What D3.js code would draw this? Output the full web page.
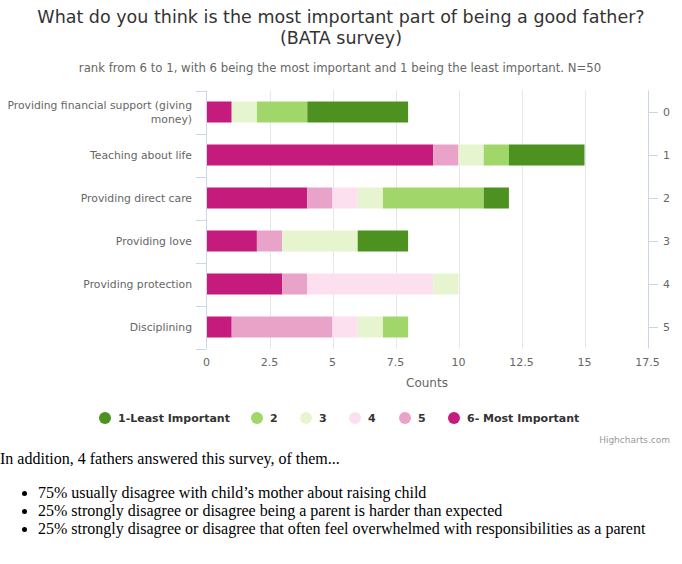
<!DOCTYPE html>
<html>
<head>
<meta charset="utf-8">
<script src="https://cdn.jsdelivr.net/npm/d3@7"></script>
<style>
body{margin:0;font-family:"Liberation Serif","Times New Roman",serif;font-size:16px;color:#000;}
#chart{width:682px;height:450px;}
p{margin:0;}
ul{margin:16px 0;padding-left:38px;}
</style>
</head>
<body>
<div id="chart"></div>
<p>In addition, 4 fathers answered this survey, of them...</p>
<ul>
<li>75% usually disagree with child’s mother about raising child</li>
<li>25% strongly disagree or disagree being a parent is harder than expected</li>
<li>25% strongly disagree or disagree that often feel overwhelmed with responsibilities as a parent</li>
</ul>
<script>
const categories = ["Providing financial support (giving money)","Teaching about life","Providing direct care","Providing love","Providing protection","Disciplining"];
const seriesNames = ["1-Least Important","2","3","4","5","6- Most Important"];
const seriesColors = ["#4d9221","#a1d76a","#e6f5d0","#fde0ef","#e9a3c9","#c51b7d"];
// values per series, in category order
const s1 = [4,3,1,2,0,0];
const s2 = [2,1,4,0,0,1];
const s3 = [1,1,1,3,1,1];
const s4 = [0,0,1,0,5,1];
const s5 = [0,1,1,1,1,4];
const s6 = [1,9,4,2,3,1];
const xTicks = [0,2.5,5,7.5,10,12.5,15,17.5];
const rightTicks = [0,1,2,3,4,5];

const seriesVals = [s1,s2,s3,s4,s5,s6];
const W = 682, H = 450;
const font = "'DejaVu Sans', Verdana, Arial, sans-serif";
const svg = d3.select("#chart").append("svg").attr("width",W).attr("height",H)
  .style("font-family",font);

const x = d3.scaleLinear().domain([0,17.5]).range([206.5,647.5]);
const y = d3.scaleBand().domain(categories).range([90.5,348.5]).paddingInner(0).paddingOuter(0);
const barH = 21;

// title
svg.append("text").attr("x",341).attr("y",23).attr("text-anchor","middle")
  .style("font-size","17.5px").style("fill","#333")
  .text("What do you think is the most important part of being a good father?");
svg.append("text").attr("x",341).attr("y",44).attr("text-anchor","middle")
  .style("font-size","17.5px").style("fill","#333").text("(BATA survey)");
svg.append("text").attr("x",340).attr("y",72).attr("text-anchor","middle")
  .style("font-size","11.7px").style("fill","#666")
  .text("rank from 6 to 1, with 6 being the most important and 1 being the least important. N=50");

// gridlines
svg.append("g").selectAll("line").data(xTicks.slice(1,-1)).join("line")
  .attr("x1",d=>Math.round(x(d))+0.5).attr("x2",d=>Math.round(x(d))+0.5)
  .attr("y1",90.5).attr("y2",348.5).attr("stroke","#e6e6e6").attr("stroke-width",1);

// stacked bars: order 6 at left .. 1 at right
const stackOrder = [5,4,3,2,1,0];
categories.forEach((c,ci)=>{
  let acc = 0;
  stackOrder.forEach(si=>{
    const v = seriesVals[si][ci];
    if(v>0){
      svg.append("rect")
        .attr("x",x(acc)).attr("width",x(acc+v)-x(acc))
        .attr("y",y(c)+y.bandwidth()/2-barH/2).attr("height",barH)
        .attr("fill",seriesColors[si]);
    }
    acc += v;
  });
});

// left axis
const axC = "#ccd6eb";
svg.append("line").attr("x1",206.5).attr("x2",206.5).attr("y1",90.5).attr("y2",348.5).attr("stroke",axC);
const bounds = categories.map(c=>y(c)).concat([y.range()[1]]);
svg.append("g").selectAll("line").data(bounds).join("line")
  .attr("x1",196).attr("x2",206.5).attr("y1",d=>Math.round(d)+0.5).attr("y2",d=>Math.round(d)+0.5).attr("stroke",axC);

// category labels
const lab = svg.append("g").style("font-size","10.8px").style("fill","#666").attr("text-anchor","end");
categories.forEach(c=>{
  const cy = y(c)+y.bandwidth()/2;
  if(c.length>30){
    const parts = ["Providing financial support (giving","money)"];
    lab.append("text").attr("x",192).attr("y",cy-3).text(parts[0]);
    lab.append("text").attr("x",192).attr("y",cy+11).text(parts[1]);
  } else {
    lab.append("text").attr("x",192).attr("y",cy+4).text(c);
  }
});

// right axis
svg.append("line").attr("x1",648.5).attr("x2",648.5).attr("y1",90.5).attr("y2",348.5).attr("stroke",axC);
const rY = d3.scalePoint().domain(rightTicks).range([y(categories[0])+y.bandwidth()/2, y(categories[5])+y.bandwidth()/2]);
svg.append("g").selectAll("line").data(rightTicks).join("line")
  .attr("x1",648.5).attr("x2",658).attr("y1",d=>Math.round(rY(d))+0.5).attr("y2",d=>Math.round(rY(d))+0.5).attr("stroke",axC);
svg.append("g").selectAll("text").data(rightTicks).join("text")
  .attr("x",663).attr("y",d=>rY(d)+4).style("font-size","11px").style("fill","#666").text(d=>d);

// x axis labels
svg.append("g").selectAll("text").data(xTicks).join("text")
  .attr("x",d=>x(d)).attr("y",366).attr("text-anchor","middle")
  .style("font-size","11px").style("fill","#666").text(d=>d);
svg.append("text").attr("x",427).attr("y",387).attr("text-anchor","middle")
  .style("font-size","12px").style("fill","#666").text("Counts");

// legend
const legX = [105,257,306,355,405,454];
const leg = svg.append("g");
seriesNames.forEach((n,i)=>{
  leg.append("circle").attr("cx",legX[i]).attr("cy",418).attr("r",6).attr("fill",seriesColors[i]);
  leg.append("text").attr("x",legX[i]+13).attr("y",422).style("font-size","11px")
    .style("font-weight","bold").style("fill","#333").text(n);
});

// credits
svg.append("text").attr("x",670).attr("y",443).attr("text-anchor","end")
  .style("font-size","9px").style("fill","#999").text("Highcharts.com");
</script>
</body>
</html>
